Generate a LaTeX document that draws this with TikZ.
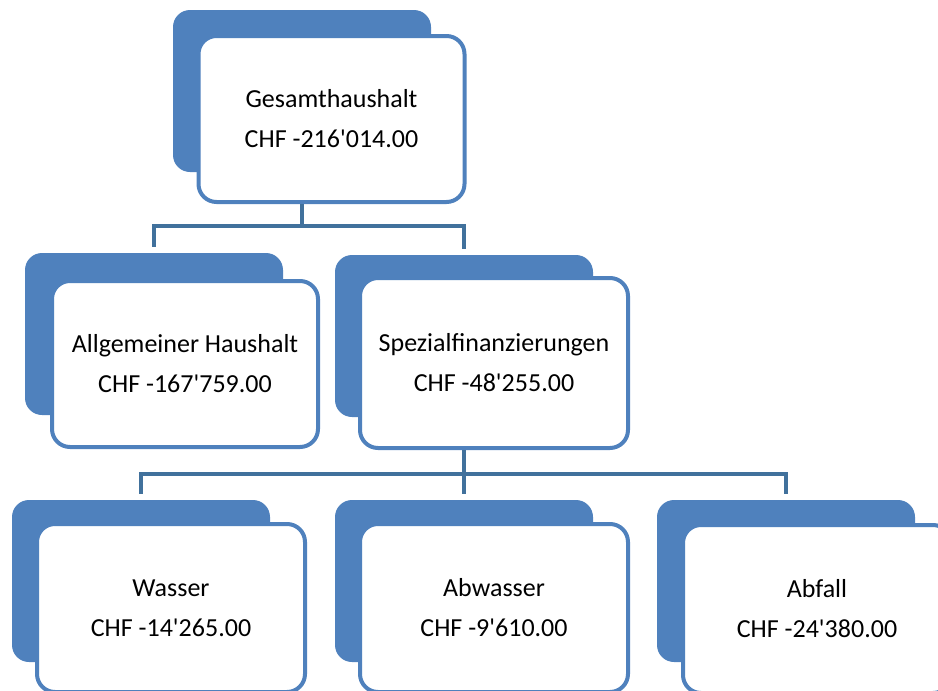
\documentclass[tikz,border=0pt]{standalone}
\usepackage{fontspec}
\setmainfont{Carlito}[Ligatures=TeXOff]
\definecolor{boxblue}{HTML}{4F81BD}
\definecolor{connblue}{HTML}{41719C}
\tikzset{
  backbox/.style={fill=boxblue, draw=none, rounded corners=17pt,
    minimum width=258pt, minimum height=162pt, inner sep=0pt},
  frontbox/.style={fill=white, draw=boxblue, line width=4pt, rounded corners=18pt,
    minimum width=266pt, minimum height=166pt, inner sep=0pt, align=center,
    font=\fontsize{26}{40}\selectfont},
  conn/.style={draw=connblue, line width=4pt}
}
\begin{document}
\begin{tikzpicture}[x=1pt,y=-1pt]
\useasboundingbox (0,0) rectangle (938,691);
% back boxes
\node[backbox] (gesB) at (302,91) {};
\node[backbox] (allB) at (154,334) {};
\node[backbox] (speB) at (464,336) {};
\node[backbox] (wasB) at (141,581) {};
\node[backbox] (abwB) at (464,581) {};
\node[backbox] (abfB) at (786,581) {};
% front boxes
\node[frontbox] (ges) at (331.5,119) {Gesamthaushalt\\CHF -216'014.00};
\node[frontbox] (all) at (185,364) {Allgemeiner Haushalt\\CHF -167'759.00};
\node[frontbox, minimum width=268pt, minimum height=170pt] (spe) at (494,363) {Spezialfinanzierungen\\CHF -48'255.00};
\node[frontbox, minimum width=268pt, minimum height=168pt] (was) at (171,608) {Wasser\\CHF -14'265.00};
\node[frontbox, minimum width=268pt, minimum height=168pt] (abw) at (494,608) {Abwasser\\CHF -9'610.00};
\node[frontbox, minimum width=268pt, minimum height=168pt] (abf) at (817,609) {Abfall\\CHF -24'380.00};
% connectors
\coordinate (j1) at (302,226);
\coordinate (j2) at (464,474);
\draw[conn] (gesB.center |- ges.south) -- (j1);
\draw[conn] (j1) -| ([yshift=6pt]allB.north);
\draw[conn] (j1) -| ([yshift=6pt]speB.north);
\draw[conn] (speB.center |- spe.south) -- (j2);
\draw[conn] (j2) -| ([yshift=6pt]wasB.north);
\draw[conn] (j2) -- ([yshift=6pt]abwB.north);
\draw[conn] (j2) -| ([yshift=6pt]abfB.north);
\end{tikzpicture}
\end{document}
